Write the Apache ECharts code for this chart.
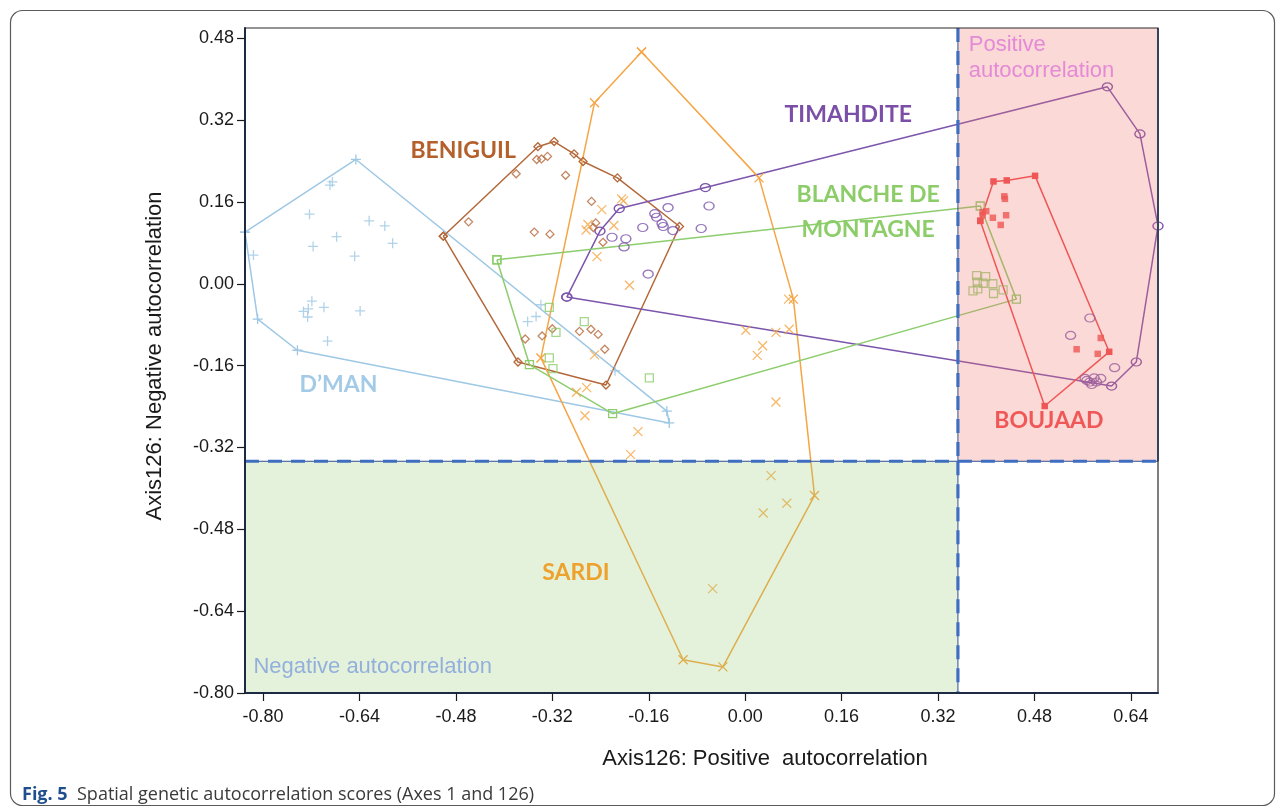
<!DOCTYPE html>
<html>
<head>
<meta charset="utf-8">
<script src="https://cdn.jsdelivr.net/npm/echarts@6/dist/echarts.min.js"></script>
<style>
  html, body { margin: 0; padding: 0; background: #ffffff; }
  #chart { width: 1284px; height: 808px; }
</style>
</head>
<body>
<div id="chart"></div>
<script>
// Axis extents and tick labels
const xRange = [-0.83, 0.685];
const yRange = [-0.80, 0.50];
const xTicks = [-0.80, -0.64, -0.48, -0.32, -0.16, 0.00, 0.16, 0.32, 0.48, 0.64];
const yTicks = [-0.80, -0.64, -0.48, -0.32, -0.16, 0.00, 0.16, 0.32, 0.48];

// Quadrant thresholds for the shaded autocorrelation zones
const splitX = 0.353;
const splitY = -0.347;

// Breed scores: convex-hull vertices (in drawing order) and remaining individuals
const dmanHull = [[-0.830, 0.101], [-0.646, 0.243], [-0.130, -0.249], [-0.126, -0.272], [-0.743, -0.130], [-0.809, -0.069]];
const dmanPts = [[-0.689, 0.193], [-0.685, 0.199], [-0.723, 0.136], [-0.624, 0.123], [-0.598, 0.113], [-0.678, 0.092],
  [-0.717, 0.073], [-0.585, 0.079], [-0.648, 0.054], [-0.816, 0.056], [-0.719, -0.034], [-0.699, -0.046],
  [-0.733, -0.054], [-0.725, -0.049], [-0.726, -0.065], [-0.639, -0.053], [-0.693, -0.112], [-0.339, -0.041],
  [-0.347, -0.064], [-0.361, -0.074], [-0.216, -0.170]];

const beniguilHull = [[-0.501, 0.093], [-0.344, 0.268], [-0.317, 0.278], [-0.284, 0.254], [-0.269, 0.239],
  [-0.212, 0.207], [-0.109, 0.112], [-0.231, -0.198], [-0.377, -0.153]];
const beniguilPts = [[-0.346, 0.243], [-0.338, 0.244], [-0.328, 0.249], [-0.380, 0.215], [-0.298, 0.212],
  [-0.255, 0.161], [-0.459, 0.121], [-0.350, 0.101], [-0.324, 0.097], [-0.248, 0.119], [-0.252, 0.110],
  [-0.236, 0.081], [-0.365, -0.108], [-0.337, -0.102], [-0.320, -0.088], [-0.275, -0.093], [-0.256, -0.089],
  [-0.244, -0.099], [-0.233, -0.128]];

const sardiHull = [[-0.172, 0.453], [0.023, 0.207], [0.080, -0.030], [0.115, -0.414], [-0.037, -0.749],
  [-0.103, -0.735], [-0.339, -0.145], [-0.250, 0.354]];
const sardiPts = [[-0.205, 0.166], [-0.202, 0.162], [-0.238, 0.145], [-0.261, 0.116], [-0.264, 0.105],
  [-0.218, 0.114], [-0.246, 0.053], [-0.192, -0.003], [-0.250, -0.139], [-0.280, -0.212], [-0.263, -0.203],
  [-0.266, -0.258], [-0.178, -0.289], [-0.190, -0.334], [0.001, -0.091], [0.051, -0.095], [0.073, -0.089],
  [0.029, -0.121], [0.020, -0.140], [0.051, -0.231], [0.043, -0.375], [0.069, -0.429], [0.030, -0.448],
  [-0.054, -0.596], [0.072, -0.030]];

const timahditeHull = [[-0.296, -0.026], [-0.241, 0.103], [-0.209, 0.147], [-0.066, 0.188], [0.601, 0.385],
  [0.655, 0.293], [0.685, 0.113], [0.649, -0.153], [0.608, -0.200]];
const timahditePts = [[-0.128, 0.149], [-0.060, 0.152], [-0.150, 0.137], [-0.147, 0.130], [-0.138, 0.118],
  [-0.136, 0.112], [-0.170, 0.110], [-0.120, 0.104], [-0.073, 0.108], [-0.221, 0.091], [-0.198, 0.088],
  [-0.201, 0.072], [-0.161, 0.019], [0.572, -0.067], [0.540, -0.101], [0.613, -0.164], [0.564, -0.185],
  [0.572, -0.192], [0.579, -0.184], [0.583, -0.192], [0.590, -0.185], [0.575, -0.197], [0.567, -0.189]];

const blancheHull = [[-0.412, 0.047], [0.390, 0.152], [0.450, -0.030], [-0.220, -0.254], [-0.358, -0.158]];
const blanchePts = [[-0.325, -0.046], [-0.267, -0.074], [-0.314, -0.095], [-0.325, -0.145], [-0.319, -0.166],
  [-0.159, -0.184], [0.384, 0.016], [0.399, 0.014], [0.385, 0.003], [0.395, 0.001], [0.411, 0.000],
  [0.378, -0.014], [0.386, -0.010], [0.412, -0.019], [0.428, -0.012]];

const boujaadHull = [[0.390, 0.123], [0.412, 0.200], [0.434, 0.202], [0.481, 0.211], [0.604, -0.133], [0.497, -0.239]];
const boujaadPts = [[0.430, 0.171], [0.431, 0.166], [0.394, 0.140], [0.400, 0.142], [0.394, 0.134], [0.411, 0.129],
  [0.433, 0.134], [0.424, 0.115], [0.590, -0.106], [0.550, -0.128], [0.585, -0.137]];

// Breed names and where their names sit in score space
const breedNames = ['D’MAN', 'BENIGUIL', 'SARDI', 'TIMAHDITE', 'BLANCHE DE\nMONTAGNE', 'BOUJAAD'];
const breedNameAnchors = [[-0.675, -0.198], [-0.468, 0.260], [-0.281, -0.565], [0.171, 0.330], [0.204, 0.141], [0.504, -0.268]];

// Marker shapes
const plusPath = 'path://M5,0L5,10M0,5L10,5';
const crossPath = 'path://M0,0L10,10M10,0L0,10';

const breeds = [
  { name: breedNames[0], hull: dmanHull, pts: dmanPts, color: '#9ec8e4', text: '#a3cae6', symbol: plusPath, size: 10, stroke: true },
  { name: breedNames[1], hull: beniguilHull, pts: beniguilPts, color: '#b4683a', text: '#b5602b', symbol: 'diamond', size: 8, stroke: true },
  { name: breedNames[2], hull: sardiHull, pts: sardiPts, color: '#f5a544', text: '#eea22e', symbol: crossPath, size: 9, stroke: true },
  { name: breedNames[3], hull: timahditeHull, pts: timahditePts, color: '#7c55ad', text: '#7b4ea8', symbol: 'circle', size: [10, 8], stroke: true },
  { name: breedNames[4], hull: blancheHull, pts: blanchePts, color: '#8dcd6d', text: '#8ccd6a', symbol: 'rect', size: 8, stroke: true },
  { name: breedNames[5], hull: boujaadHull, pts: boujaadPts, color: '#ee4c4c', text: '#f05858', symbol: 'rect', size: 6.5, stroke: false }
];

const markerStyle = (b) => b.stroke
  ? { color: 'rgba(0,0,0,0)', borderColor: b.color, borderWidth: 1.3 }
  : { color: b.color, borderWidth: 0 };

const series = [];
breeds.forEach((b) => {
  series.push({
    type: 'line',
    name: b.name,
    data: b.hull.concat([b.hull[0]]),
    symbol: b.symbol,
    symbolSize: b.size,
    showSymbol: true,
    showAllSymbol: true,
    lineStyle: { color: b.color, width: 1.5 },
    itemStyle: markerStyle(b),
    z: 2,
    silent: true
  });
  series.push({
    type: 'scatter',
    name: b.name,
    data: b.pts,
    symbol: b.symbol,
    symbolSize: b.size,
    itemStyle: markerStyle(b),
    z: 3,
    silent: true
  });
});

// Shaded zones: negative autocorrelation (lower-left) and positive autocorrelation (upper-right)
const zones = [
  { box: [xRange[0], yRange[0], splitX, splitY], fill: 'rgba(150,205,112,0.25)', dashed: ['top', 'right'], solid: [] },
  { box: [splitX, splitY, xRange[1], yRange[1]], fill: 'rgba(240,118,112,0.28)', dashed: ['left', 'bottom'], solid: ['right'] }
];

series.push({
  type: 'custom',
  name: 'zones',
  data: zones.map((z) => z.box),
  encode: { x: [0, 2], y: [1, 3] },
  z: 6,
  silent: true,
  renderItem: function (params, api) {
    const z = zones[params.dataIndex];
    const tl = api.coord([api.value(0), api.value(3)]);
    const br = api.coord([api.value(2), api.value(1)]);
    const edges = {
      top: [tl[0], tl[1], br[0], tl[1]],
      bottom: [tl[0], br[1], br[0], br[1]],
      left: [tl[0], tl[1], tl[0], br[1]],
      right: [br[0], tl[1], br[0], br[1]]
    };
    const children = [{
      type: 'rect',
      shape: { x: tl[0], y: tl[1], width: br[0] - tl[0], height: br[1] - tl[1] },
      style: { fill: z.fill }
    }];
    z.dashed.forEach((e) => {
      const s = edges[e];
      children.push({ type: 'line', shape: { x1: s[0], y1: s[1], x2: s[2], y2: s[3] },
        style: { stroke: '#2f4f8f', lineWidth: 1 } });
      children.push({ type: 'line', shape: { x1: s[0], y1: s[1], x2: s[2], y2: s[3] },
        style: { stroke: '#3f6ec0', lineWidth: 3.2, lineDash: [14, 9] } });
    });
    z.solid.forEach((e) => {
      const s = edges[e];
      children.push({ type: 'line', shape: { x1: s[0], y1: s[1], x2: s[2], y2: s[3] },
        style: { stroke: '#4a66a6', lineWidth: 2 } });
    });
    return { type: 'group', children: children };
  }
});

// Text annotations placed in score space
const annotations = breeds.map((b, i) => ({
  at: breedNameAnchors[i], text: b.name, color: b.text,
  font: 'bold 23px Lato, "Noto Sans", sans-serif', align: 'center', lineHeight: 35
}));
annotations.push({ at: [0.371, 0.441], text: 'Positive\nautocorrelation', color: '#e48ad6',
  font: '22px "Liberation Sans", Arial, sans-serif', align: 'left', lineHeight: 26 });
annotations.push({ at: [-0.816, -0.749], text: 'Negative autocorrelation', color: '#93b0dc',
  font: '22px "Liberation Sans", Arial, sans-serif', align: 'left', lineHeight: 26 });

series.push({
  type: 'custom',
  name: 'annotations',
  data: annotations.map((a) => a.at),
  encode: { x: 0, y: 1 },
  z: 8,
  silent: true,
  renderItem: function (params, api) {
    const a = annotations[params.dataIndex];
    const p = api.coord([api.value(0), api.value(1)]);
    return {
      type: 'text',
      x: p[0], y: p[1],
      style: { text: a.text, fill: a.color, font: a.font, align: a.align, verticalAlign: 'middle', lineHeight: a.lineHeight }
    };
  }
});

const fmt = (v) => Number(v).toFixed(2);
const axisFont = { fontFamily: '"Liberation Sans", Arial, sans-serif', fontSize: 18, color: '#1a1a1a' };

const option = {
  animation: false,
  backgroundColor: '#ffffff',
  grid: { left: 245, right: 126, top: 28, bottom: 115, show: true, borderColor: '#2b2b2b', borderWidth: 1.2, z: 9 },
  xAxis: {
    type: 'value', min: xRange[0], max: xRange[1], z: 10,
    splitLine: { show: false },
    axisLine: { onZero: false, lineStyle: { color: '#1e2a44', width: 2 } },
    axisTick: { customValues: xTicks, length: 8, inside: false, lineStyle: { color: '#1a1a1a', width: 1.2 } },
    axisLabel: { customValues: xTicks, formatter: fmt, margin: 15, ...axisFont }
  },
  yAxis: {
    type: 'value', min: yRange[0], max: yRange[1], z: 10,
    splitLine: { show: false },
    axisLine: { onZero: false, lineStyle: { color: '#1e2a44', width: 2 } },
    axisTick: { customValues: yTicks, length: 8, inside: false, lineStyle: { color: '#1a1a1a', width: 1.2 } },
    axisLabel: { customValues: yTicks, formatter: fmt, margin: 11, ...axisFont }
  },
  series: series,
  graphic: [
    { type: 'rect', shape: { x: 10.5, y: 10.5, width: 1264, height: 795, r: 12 },
      style: { fill: 'none', stroke: '#5a5a5a', lineWidth: 1.2 }, silent: true },
    { type: 'text', x: 765, y: 759,
      style: { text: 'Axis126: Positive  autocorrelation', font: '22px "Liberation Sans", Arial, sans-serif',
        fill: '#1a1a1a', align: 'center', verticalAlign: 'middle' } },
    { type: 'text', x: 155, y: 356, rotation: Math.PI / 2,
      style: { text: 'Axis126: Negative autocorrelation', font: '22px "Liberation Sans", Arial, sans-serif',
        fill: '#1a1a1a', align: 'center', verticalAlign: 'middle' } },
    { type: 'text', x: 22, y: 795,
      style: {
        text: '{b|Fig. 5}  Spatial genetic autocorrelation scores (Axes 1 and 126)',
        font: '18px "Open Sans", "Noto Sans", sans-serif', fill: '#3a3a3a', verticalAlign: 'middle',
        rich: { b: { font: 'bold 18px "Open Sans", "Noto Sans", sans-serif', fill: '#1f4f8c' } }
      } }
  ]
};

const chart = echarts.init(document.getElementById('chart'), null, { renderer: 'canvas' });
chart.setOption(option);
</script>
</body>
</html>
